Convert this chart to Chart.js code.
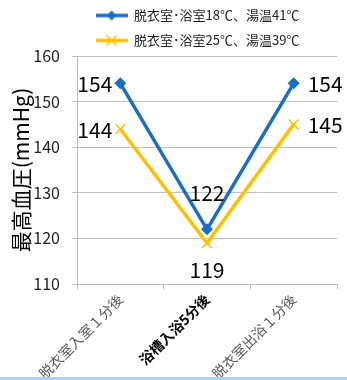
<!DOCTYPE html>
<html>
<head>
<meta charset="utf-8">
<script src="https://cdn.jsdelivr.net/npm/chart.js@4.4.1/dist/chart.umd.min.js"></script>
<style>
  html, body { margin: 0; padding: 0; background: #fff; }
  #wrap { width: 347px; height: 377px; position: relative; }
  #strip { width: 347px; height: 3px; background: #a9d3f5; }
</style>
</head>
<body>
<div id="wrap"><canvas id="bpChart"></canvas></div>
<div id="strip"></div>
<script>
// timings
const labels = ["脱衣室入室１分後", "浴槽入浴5分後", "脱衣室出浴１分後"];
// systolic pressure per condition
const cold = [154, 122, 154];
const warm = [144, 119, 145];
const seriesNames = ["脱衣室･浴室18℃、湯温41℃", "脱衣室･浴室25℃、湯温39℃"];
const yTicks = { min: 110, max: 160, step: 10 };

const blue = "#1b6ec2";
const yellow = "#ffc000";
const jp = "'Noto Sans CJK JP', 'Noto Sans', sans-serif";

// legend swatch: short line with the series marker on it
function swatch(color, kind) {
  const c = document.createElement("canvas");
  c.width = 32; c.height = 14;
  const g = c.getContext("2d");
  g.strokeStyle = color; g.lineWidth = 3.5;
  g.beginPath(); g.moveTo(0, 7); g.lineTo(32, 7); g.stroke();
  if (kind === "diamond") {
    g.fillStyle = color;
    g.beginPath(); g.moveTo(16, 2); g.lineTo(21, 7); g.lineTo(16, 12); g.lineTo(11, 7); g.closePath(); g.fill();
  } else {
    g.lineWidth = 1.5;
    g.beginPath(); g.moveTo(11, 2); g.lineTo(21, 12); g.moveTo(21, 2); g.lineTo(11, 12); g.stroke();
  }
  return c;
}
const swatches = [swatch(blue, "diamond"), swatch(yellow, "cross")];

// where each value label sits relative to its point
const labelPlace = [["left", "above", "right"], ["left", "below", "right"]];

const valueLabels = {
  id: "valueLabels",
  afterLayout(chart) {
    // legend sits over the plot rather than the whole canvas
    const lg = chart.legend;
    lg.left += 29; lg.right += 29;
    lg.top += 1; lg.bottom += 1;
  },
  afterDatasetsDraw(chart) {
    const c = chart.ctx;
    c.save();
    c.font = "21px " + jp;
    c.fillStyle = "#000";
    chart.data.datasets.forEach((ds, di) => {
      chart.getDatasetMeta(di).data.forEach((pt, i) => {
        const where = labelPlace[di][i];
        const txt = String(ds.data[i]);
        c.textBaseline = "middle";
        if (where === "left") {
          c.textAlign = "right"; c.fillText(txt, pt.x - 8, pt.y + 1);
        } else if (where === "right") {
          c.textAlign = "left"; c.fillText(txt, pt.x + 14, pt.y + 1);
        } else if (where === "above") {
          c.textAlign = "center"; c.fillText(txt, pt.x, pt.y - 36);
        } else {
          c.textAlign = "center"; c.fillText(txt, pt.x, pt.y + 27);
        }
      });
    });
    c.restore();
  }
};

new Chart(document.getElementById("bpChart"), {
  type: "line",
  data: {
    labels: labels,
    datasets: [
      {
        label: seriesNames[0],
        data: cold,
        borderColor: blue,
        backgroundColor: blue,
        borderWidth: 3.5,
        pointStyle: "rectRot",
        pointRadius: 6,
        pointBorderWidth: 0,
        tension: 0
      },
      {
        label: seriesNames[1],
        data: warm,
        borderColor: yellow,
        backgroundColor: yellow,
        borderWidth: 3.5,
        pointStyle: "crossRot",
        pointRadius: 7,
        pointBorderWidth: 1.5,
        tension: 0
      }
    ]
  },
  options: {
    responsive: true,
    maintainAspectRatio: false,
    animation: false,
    layout: { padding: { top: -4, right: 10, left: 0, bottom: 0 } },
    plugins: {
      tooltip: { enabled: false },
      legend: {
        position: "top",
        labels: {
          usePointStyle: true,
          pointStyleWidth: 32,
          padding: 12,
          color: "#222",
          font: { family: jp, size: 13 },
          generateLabels(chart) {
            const items = Chart.defaults.plugins.legend.labels.generateLabels(chart);
            items.forEach((it, i) => { it.pointStyle = swatches[i]; });
            return items;
          }
        }
      }
    },
    scales: {
      x: {
        offset: true,
        grid: { offset: true, drawOnChartArea: false, tickLength: 5, color: "#bfbfbf" },
        border: { color: "#bfbfbf" },
        ticks: {
          minRotation: 45,
          maxRotation: 45,
          padding: 2,
          color: (ctx) => ctx.index === 1 ? "#000" : "#595959",
          font: (ctx) => ctx.index === 1
            ? { family: jp, size: 14, weight: "bold" }
            : { family: jp, size: 14 }
        },
        afterFit(scale) { scale.height = 93; }
      },
      y: {
        min: yTicks.min,
        max: yTicks.max,
        ticks: { stepSize: yTicks.step, color: "#222", padding: 12, font: { family: jp, size: 16 } },
        grid: { color: "#bfbfbf", tickLength: 5 },
        border: { color: "#bfbfbf" },
        title: {
          display: true,
          text: "最高血圧(mmHg)",
          color: "#000",
          font: { family: jp, size: 21 },
          padding: { top: 8, bottom: 0 }
        },
        afterFit(scale) { scale.width = 77; }
      }
    }
  },
  plugins: [valueLabels]
});
</script>
</body>
</html>
